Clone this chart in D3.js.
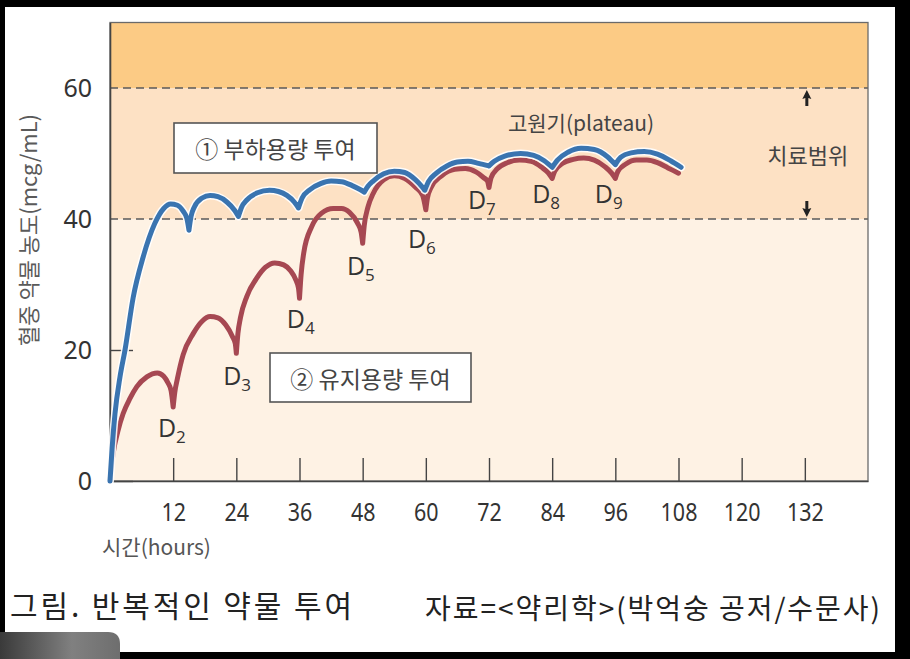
<!DOCTYPE html>
<html><head><meta charset="utf-8">
<script src="https://cdn.jsdelivr.net/npm/d3@7/dist/d3.min.js"></script>
<style>
html,body{margin:0;padding:0;background:#000;}
svg{display:block;}
text{font-family:"Noto Sans CJK KR","Noto Sans",sans-serif;}
</style></head><body>
<svg id="c" width="910" height="659"></svg>
<script>
// ---------- data ----------
const xTicks = [12,24,36,48,60,72,84,96,108,120,132];
const yTicks = [0,20,40,60];
const bandBreaks = [0,40,60,70];
const therapeuticLimits = [40,60];

// ① loading dose curve (hours, mcg/mL), split at dosing cusps
const loadingSegments = [
  [[0,0],[0.4,5],[0.95,10.3],[1.9,15.9],[2.85,20],[4.4,28],[6.3,34.2],[8.5,39.3],[10.2,41.6],[11.5,42.3],[12.8,42.1],[13.9,41.2],[14.6,40.1],[15,38.3]],
  [[15,38.3],[15.4,40.4],[16,41.8],[17.5,43.2],[19,43.6],[20.5,43.4],[22.2,42.6],[23.7,41.3],[24.4,40.4]],
  [[24.4,40.4],[25,41.8],[26,42.9],[28,44],[30.3,44.4],[32,44.2],[33.6,43.6],[35,42.6],[35.8,41.7]],
  [[35.8,41.7],[36.5,43.2],[38,44.5],[40,45.4],[42,45.8],[44,45.7],[46,45.1],[47.5,44.5],[48.3,44.1]],
  [[48.3,44.1],[49,45],[50,45.8],[52,46.9],[54,47.3],[56,47.1],[58,46],[59.3,44.9],[59.8,44.4]],
  [[59.8,44.4],[60.5,45.7],[62,47],[64,48.1],[66,48.7],[68,48.8],[70,48.5],[72,48.1]],
  [[72,48.1],[73,48.8],[75,49.6],[78,50.0],[80.5,49.7],[82.5,48.9],[84,47.9]],
  [[84,47.9],[85,49],[87,50.2],[89.5,50.8],[92,50.6],[94.5,49.5],[96,48.3]],
  [[96,48.3],[97,49.4],[99,50.1],[101.5,50.3],[104,49.9],[106.5,48.9],[108.5,47.9]]
];

// ② maintenance dose curve
const maintenanceSegments = [
  [[0,0],[0.6,4.2],[1.5,7.6],[2.5,10.3],[3.8,12.6],[5.1,14.4],[7,15.9],[9,16.5],[10.2,16.0],[11,15.0],[11.6,13.8],[12,11.3]],
  [[12,11.3],[12.3,13.5],[12.8,15.6],[13.9,19.3],[15.8,22.5],[17.5,24.4],[19,25.1],[20.5,24.9],[22,23.8],[23.3,22.0],[23.8,21],[24,19.5]],
  [[24,19.5],[24.3,22.5],[24.8,25],[26,28.2],[27.9,31],[29.5,32.6],[31.3,33.3],[33,33.0],[34.3,32.1],[35.3,30.7],[35.8,29.5],[36,27.9]],
  [[36,27.9],[36.3,31.5],[36.8,34.8],[38.3,38.8],[40.2,40.9],[42.4,41.6],[44,41.6],[45.5,41.0],[47,39.4],[47.7,38],[48,36.3]],
  [[48,36.3],[48.3,39],[49,41.8],[50,43.9],[52,46],[54,46.6],[56,46.2],[58,44.9],[59.4,43.6],[60,41.4]],
  [[60,41.4],[60.3,43.2],[61,44.8],[63,46.6],[65.5,47.6],[67.5,47.7],[69.5,47.2],[71,46.3],[71.7,45.8],[72,44.8]],
  [[72,44.8],[72.4,46.3],[73.5,47.6],[75.5,48.6],[77.8,49.0],[80,48.8],[82,47.9],[83.3,47.0],[84,46.2]],
  [[84,46.2],[84.5,47.3],[86,48.5],[88,49.1],[90,49.3],[92,49.0],[94,48.0],[95.3,47.0],[96,46.2]],
  [[96,46.2],[96.5,47.3],[98,48.4],[100,49],[102,49],[104,48.6],[106,47.8],[108,47.0]]
];

const doseSubs = ["2","3","4","5","6","7","8","9"];
const doseLabelT = [9.1,21.5,33.6,45.0,56.6,68.0,80.2,92.1];
const doseLabelC = [6.7,14.6,23.3,31.4,35.5,41.6,42.5,42.5];

// ---------- drawing ----------
const svg = d3.select("#c");
const x = d3.scaleLinear().domain([0,144]).range([110,868]);
const y = d3.scaleLinear().domain([0,70]).range([481,22.5]);

// page
svg.append("rect").attr("x",5).attr("y",7).attr("width",890).attr("height",645).attr("fill","#fff");

// bands
const bandColors = ["#fef2e4","#fde1c4","#fccb85"];
const g = svg.append("g");
for (let i=0;i<bandBreaks.length-1;i++){
  g.append("rect")
    .attr("x",x(0)).attr("y",y(bandBreaks[i+1]))
    .attr("width",x(144)-x(0)).attr("height",y(bandBreaks[i])-y(bandBreaks[i+1]))
    .attr("fill",bandColors[i]);
}

// dashed therapeutic limits
g.selectAll(".lim").data(therapeuticLimits).join("line")
  .attr("x1",x(0)).attr("x2",x(144))
  .attr("y1",d=>y(d)).attr("y2",d=>y(d))
  .attr("stroke","#5a5a5a").attr("stroke-width",1.6).attr("stroke-dasharray","8,5");

// frame
g.append("rect").attr("x",x(0)).attr("y",y(70)).attr("width",x(144)-x(0)).attr("height",y(0)-y(70))
  .attr("fill","none").attr("stroke","#6a6a6a").attr("stroke-width",1.3);

// axes
const xAxis = d3.axisBottom(x).tickValues(xTicks).tickSize(-23).tickPadding(22).tickSizeOuter(0);
const gx = g.append("g").attr("transform",`translate(0,${y(0)})`).call(xAxis);
gx.select(".domain").attr("stroke","#444").attr("stroke-width",1.6);
gx.selectAll(".tick line").attr("stroke","#444").attr("stroke-width",1.4);
gx.selectAll(".tick text").attr("fill","#333").attr("transform","scale(0.86,1)")
  .style("font-family",'"Noto Sans","Noto Sans CJK KR",sans-serif').style("font-size","25px");

const yAxis = d3.axisLeft(y).tickValues(yTicks).tickSize(-23).tickPadding(18).tickSizeOuter(0);
const gy = g.append("g").attr("transform",`translate(${x(0)},0)`).call(yAxis);
gy.select(".domain").attr("stroke","#444").attr("stroke-width",1.6);
gy.selectAll(".tick line").attr("stroke","#444").attr("stroke-width",1.4)
  .attr("display",d=> (d===40||d===60)?"none":null);
gy.selectAll(".tick text").attr("fill","#333").style("font-size","25px")
  .style("font-family",'"Noto Sans","Noto Sans CJK KR",sans-serif');

// curves
const line = d3.line().x(d=>x(d[0])).y(d=>y(d[1])).curve(d3.curveMonotoneX);
function drawCurve(segs,color,halo){
  const d = segs.map(s=>line(s)).join("");
  if (halo) g.append("path").attr("d",d).attr("fill","none").attr("stroke","#fff").attr("stroke-opacity",0.9)
    .attr("stroke-width",8).attr("stroke-linejoin","round").attr("stroke-linecap","round");
  g.append("path").attr("d",d).attr("fill","none").attr("stroke",color)
    .attr("stroke-width",5).attr("stroke-linejoin","round").attr("stroke-linecap","round");
}
drawCurve(maintenanceSegments,"#a64852",false);
drawCurve(loadingSegments,"#3a74b0",true);

// dose labels
doseSubs.forEach((s,i)=>{
  const t = g.append("text").attr("x",x(doseLabelT[i])).attr("y",y(doseLabelC[i]))
    .attr("fill","#333").style("font-family",'"Open Sans","Noto Sans",sans-serif').style("font-size","25px");
  t.append("tspan").text("D");
  t.append("tspan").attr("dy",6).style("font-size","17px").text(s);
});

// legend boxes
function box(x0,y0,w,h,label){
  g.append("rect").attr("x",x0).attr("y",y0).attr("width",w).attr("height",h)
    .attr("fill","#fff").attr("stroke","#555").attr("stroke-width",1.6);
  g.append("text").attr("x",x0+w/2).attr("y",y0+h/2).attr("text-anchor","middle")
    .attr("dominant-baseline","central").attr("fill","#444").style("font-size","23px").text(label);
}
box(174,123,203,50,"① 부하용량 투여");
box(270,353,201,49,"② 유지용량 투여");

// plateau label
g.append("text").attr("x",581).attr("y",122).attr("text-anchor","middle").attr("dominant-baseline","central")
  .attr("fill","#444").style("font-size","21px").text("고원기(plateau)");

// therapeutic range label + arrows
g.append("text").attr("x",x(132)+3).attr("y",154).attr("text-anchor","middle").attr("dominant-baseline","central")
  .attr("fill","#444").style("font-size","22px").text("치료범위");
const ax = x(132)+2;
const yt = y(60)+2, yb = y(40)-2;
g.append("path").attr("d",`M${ax},${yt} L${ax-4.5},${yt+9} L${ax-1.5},${yt+8} L${ax-1.5},${yt+16} L${ax+1.5},${yt+16} L${ax+1.5},${yt+8} L${ax+4.5},${yt+9} Z`).attr("fill","#222");
g.append("path").attr("d",`M${ax},${yb} L${ax-4.5},${yb-9} L${ax-1.5},${yb-8} L${ax-1.5},${yb-16} L${ax+1.5},${yb-16} L${ax+1.5},${yb-8} L${ax+4.5},${yb-9} Z`).attr("fill","#222");

// axis titles
g.append("text").attr("x",102).attr("y",546).attr("dominant-baseline","central")
  .attr("fill","#555").style("font-size","21px").text("시간(hours)");
g.append("text").attr("transform","translate(27,230) rotate(-90)").attr("text-anchor","middle")
  .attr("dominant-baseline","central").attr("fill","#5a5a5a").style("font-size","22px").text("혈중 약물 농도(mcg/mL)");

// caption
svg.append("text").attr("x",10).attr("y",604).attr("dominant-baseline","central")
  .attr("fill","#222").style("font-size","30px").attr("textLength",342).attr("lengthAdjust","spacing")
  .text("그림. 반복적인 약물 투여");
svg.append("text").attr("x",425).attr("y",607).attr("dominant-baseline","central")
  .attr("fill","#222").style("font-size","28px").attr("textLength",455).attr("lengthAdjust","spacing")
  .text("자료=<약리학>(박억숭 공저/수문사)");

// grey tab bottom-left
const defs = svg.append("defs");
const lg = defs.append("linearGradient").attr("id","tab").attr("x1","0").attr("x2","1").attr("y1","0").attr("y2","0");
lg.append("stop").attr("offset","0").attr("stop-color","#3a3a3a");
lg.append("stop").attr("offset","0.6").attr("stop-color","#808080");
lg.append("stop").attr("offset","1").attr("stop-color","#6e6e6e");
svg.append("path").attr("d","M0,632 L108,632 Q120,632 120,644 L120,659 L0,659 Z").attr("fill","url(#tab)");
</script>
</body></html>
